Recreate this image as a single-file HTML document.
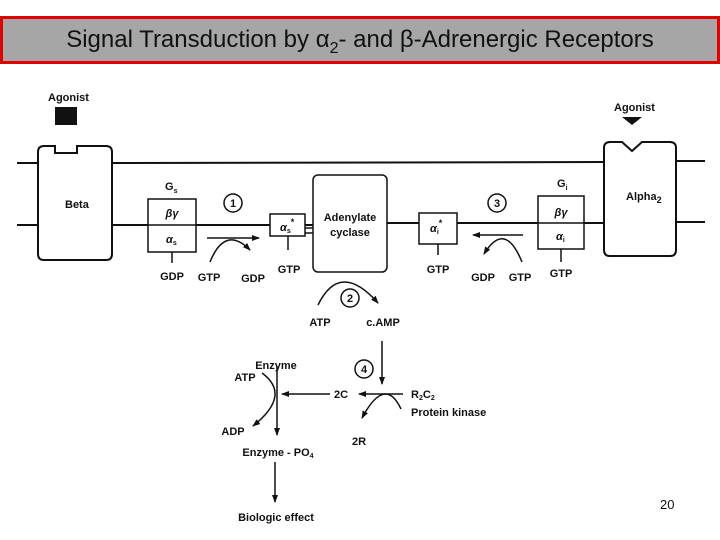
<!DOCTYPE html>
<html><head><style>
html,body{margin:0;padding:0;background:#fff;width:720px;height:540px;overflow:hidden}
.title{position:absolute;left:0;top:16px;width:714px;height:42px;border:3px solid #e00000;background:#a6a6a6;font-family:"Liberation Sans",sans-serif;font-size:24px;line-height:42px;text-align:center;color:#111}
svg{position:absolute;left:0;top:0}
text{font-family:"Liberation Sans",sans-serif;font-weight:bold;font-size:11px;fill:#111}
</style></head><body>
<div class="title">Signal Transduction by α<sub style="font-size:16px;vertical-align:-6px;line-height:0">2</sub>- and β-Adrenergic Receptors</div>
<svg width="720" height="540" viewBox="0 0 720 540">
<defs><marker id="a" markerWidth="8" markerHeight="8" refX="7" refY="4" orient="auto" markerUnits="userSpaceOnUse"><path d="M0,1 L8,4 L0,7 Z" fill="#111"/></marker></defs>
<g stroke="#111" stroke-width="2" fill="none">
<line x1="17" y1="163" x2="38" y2="163"/><line x1="17" y1="225" x2="38" y2="225"/>
<line x1="112" y1="163" x2="604" y2="162"/>
<line x1="112" y1="225" x2="313" y2="225"/>
<line x1="387" y1="223" x2="604" y2="223"/>
<line x1="676" y1="161" x2="705" y2="161"/><line x1="676" y1="222" x2="705" y2="222"/>
<path d="M44,146 H55 V153 H77 V146 H106 Q112,146 112,152 V254 Q112,260 106,260 H44 Q38,260 38,254 V152 Q38,146 44,146 Z" fill="#fff"/>
<path d="M610,142 H622 L632,151 L642,142 H670 Q676,142 676,148 V250 Q676,256 670,256 H610 Q604,256 604,250 V148 Q604,142 610,142 Z" fill="#fff"/>
<rect x="148" y="199" width="48" height="53" fill="#fff" stroke-width="1.5"/><line x1="148" y1="225" x2="196" y2="225" stroke-width="1.5"/>
<line x1="172" y1="252" x2="172" y2="263" stroke-width="1.5"/>
<rect x="270" y="214" width="35" height="22" fill="#fff" stroke-width="1.5"/>
<line x1="288" y1="236" x2="288" y2="250" stroke-width="1.5"/>
<line x1="305" y1="228" x2="313" y2="228" stroke-width="1.5"/><line x1="305" y1="233" x2="313" y2="233" stroke-width="1.5"/>
<rect x="313" y="175" width="74" height="97" rx="5" fill="#fff" stroke-width="1.5"/>
<rect x="419" y="213" width="38" height="31" fill="#fff" stroke-width="1.5"/>
<line x1="438" y1="244" x2="438" y2="255" stroke-width="1.5"/>
<rect x="538" y="196" width="46" height="53" fill="#fff" stroke-width="1.5"/><line x1="538" y1="223" x2="584" y2="223" stroke-width="1.5"/>
<line x1="561" y1="249" x2="561" y2="262" stroke-width="1.5"/>
<g stroke-width="1.5"><circle cx="233" cy="203" r="9"/><circle cx="497" cy="203" r="9"/><circle cx="350" cy="298" r="9"/><circle cx="364" cy="369" r="9"/></g>
<line x1="207" y1="238" x2="259" y2="238" stroke-width="1.5" marker-end="url(#a)"/>
<path d="M210,262 Q225,225 250,250" stroke-width="1.5" marker-end="url(#a)"/>
<line x1="523" y1="235" x2="473" y2="235" stroke-width="1.5" marker-end="url(#a)"/>
<path d="M522,262 Q505,220 484,254" stroke-width="1.5" marker-end="url(#a)"/>
<path d="M318,305 Q340,260 378,303" stroke-width="1.5" marker-end="url(#a)"/>
<line x1="382" y1="341" x2="382" y2="384" stroke-width="1.5" marker-end="url(#a)"/>
<line x1="403" y1="394" x2="359" y2="394" stroke-width="1.5" marker-end="url(#a)"/>
<path d="M401,409 Q385,375 362,418" stroke-width="1.5" marker-end="url(#a)"/>
<line x1="330" y1="394" x2="282" y2="394" stroke-width="1.5" marker-end="url(#a)"/>
<line x1="277" y1="366" x2="277" y2="435" stroke-width="1.5" marker-end="url(#a)"/>
<path d="M262,373 Q292,395 253,426" stroke-width="1.5" marker-end="url(#a)"/>
<line x1="275" y1="462" x2="275" y2="502" stroke-width="1.5" marker-end="url(#a)"/>
</g>
<rect x="55" y="107" width="22" height="18" fill="#111"/>
<path d="M622,117 H642 L632,125 Z" fill="#111"/>
<text x="48" y="101">Agonist</text>
<text x="614" y="111">Agonist</text>
<text x="65" y="208">Beta</text>
<text x="626" y="200">Alpha<tspan font-size="9" dy="3">2</tspan></text>
<text x="165" y="190">G<tspan font-size="7" dy="3">s</tspan></text>
<text x="557" y="187">G<tspan font-size="7" dy="3">i</tspan></text>
<text x="172" y="217" text-anchor="middle" font-style="italic" font-size="12">βγ</text>
<text x="166" y="243" font-style="italic" font-size="12">α<tspan font-size="7" font-style="normal" dy="2">s</tspan></text>
<text x="561" y="216" text-anchor="middle" font-style="italic" font-size="12">βγ</text>
<text x="556" y="240" font-style="italic" font-size="12">α<tspan font-size="7" font-style="normal" dy="2">i</tspan></text>
<text x="280" y="231" font-style="italic" font-size="12">α<tspan font-size="7" font-style="normal" dy="2">s</tspan><tspan font-size="9" font-style="normal" dy="-8">*</tspan></text>
<text x="430" y="232" font-style="italic" font-size="12">α<tspan font-size="7" font-style="normal" dy="2">i</tspan><tspan font-size="9" font-style="normal" dy="-8">*</tspan></text>
<text x="350" y="221" text-anchor="middle">Adenylate</text>
<text x="350" y="236" text-anchor="middle">cyclase</text>
<text x="233" y="207" text-anchor="middle">1</text>
<text x="497" y="207" text-anchor="middle">3</text>
<text x="350" y="302" text-anchor="middle">2</text>
<text x="364" y="373" text-anchor="middle">4</text>
<g text-anchor="middle">
<text x="172" y="280">GDP</text><text x="209" y="281">GTP</text><text x="253" y="282">GDP</text><text x="289" y="273">GTP</text>
<text x="438" y="273">GTP</text><text x="483" y="281">GDP</text><text x="520" y="281">GTP</text><text x="561" y="277">GTP</text>
<text x="320" y="326">ATP</text><text x="383" y="326">c.AMP</text>
<text x="276" y="369">Enzyme</text>
<text x="245" y="381">ATP</text><text x="341" y="398">2C</text>
<text x="233" y="435">ADP</text><text x="359" y="445">2R</text>
<text x="278" y="456">Enzyme - PO<tspan font-size="7" dy="2">4</tspan></text>
<text x="276" y="521">Biologic effect</text>
</g>
<text x="411" y="398">R<tspan font-size="7" dy="2">2</tspan><tspan dy="-2">C</tspan><tspan font-size="7" dy="2">2</tspan></text>
<text x="411" y="416">Protein kinase</text>
<text x="660" y="509" style="font-weight:normal;font-size:13px">20</text>
</svg>
</body></html>
